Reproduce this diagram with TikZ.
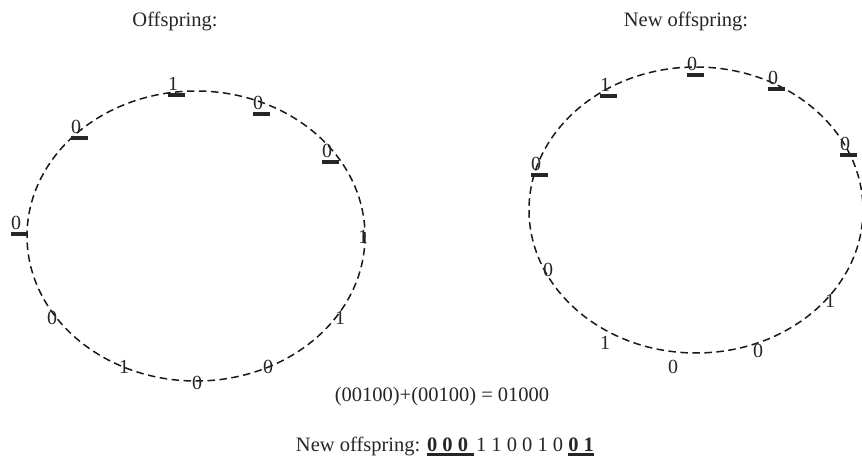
\documentclass[tikz,border=0pt]{standalone}
\usepackage{fontspec}
\setmainfont{Liberation Serif}
\newcommand\ubit[1]{\vbox{\hbox to 17pt{#1\hfil}\kern2.5pt\hrule height 4pt}}
\newcommand\uln[1]{\vtop{\hbox{#1}\kern1.5pt\hrule height 3pt}}
\tikzset{
  ring/.style={draw=black!90, line width=1.5pt, dash pattern=on 7.5pt off 4.5pt},
  bit/.style={inner sep=0pt, font=\fontsize{20}{23}\selectfont, text=black!85},
  ubitnode/.style={bit, anchor=south west},
  title/.style={inner sep=0pt, anchor=base, font=\fontsize{20.5}{24}\selectfont, text=black!85}
}
\begin{document}
\begin{tikzpicture}[x=1pt,y=-1pt]
\useasboundingbox (0,0) rectangle (862,457);
% titles
\node[title] (t1) at (175,27) {Offspring:};
\node[title] (t2) at (686,27) {New offspring:};
% ellipses
\draw[ring] (196,236) ellipse [x radius=169, y radius=145];
\draw[ring] (696,210) ellipse [x radius=167, y radius=143];
% left ring, underlined bits
\node[ubitnode] (la) at (11,236) {\ubit{0}};
\node[ubitnode] (lb) at (71,140) {\ubit{0}};
\node[ubitnode] (lc) at (168,97) {\ubit{1}};
\node[ubitnode] (ld) at (253,116) {\ubit{0}};
\node[ubitnode] (le) at (322,164) {\ubit{0}};
% left ring, plain bits
\node[bit] (lf) at (363,237) {1};
\node[bit] (lg) at (340,318) {1};
\node[bit] (lh) at (268,367) {0};
\node[bit] (li) at (197,383) {0};
\node[bit] (lj) at (124,367) {1};
\node[bit] (lk) at (52,318) {0};
% right ring, underlined bits
\node[ubitnode] (ra) at (531,177) {\ubit{0}};
\node[ubitnode] (rb) at (600,98) {\ubit{1}};
\node[ubitnode] (rc) at (687,77) {\ubit{0}};
\node[ubitnode] (rd) at (768,91) {\ubit{0}};
\node[ubitnode] (re) at (840,157) {\ubit{0}};
% right ring, plain bits
\node[bit] (rf) at (830,301) {1};
\node[bit] (rg) at (758,351) {0};
\node[bit] (rh) at (673,367) {0};
\node[bit] (ri) at (605,343) {1};
\node[bit] (rj) at (548,270) {0};
% bottom text
\node[title] (eq) at (442,401) {(00100)+(00100) = 01000};
\node[title] (no) at (445,451) {New offspring: \uln{\textbf{0 0 0}\kern6pt}\kern2pt1 1 0 0 1 0 \uln{\textbf{0 1}}};
\end{tikzpicture}
\end{document}
